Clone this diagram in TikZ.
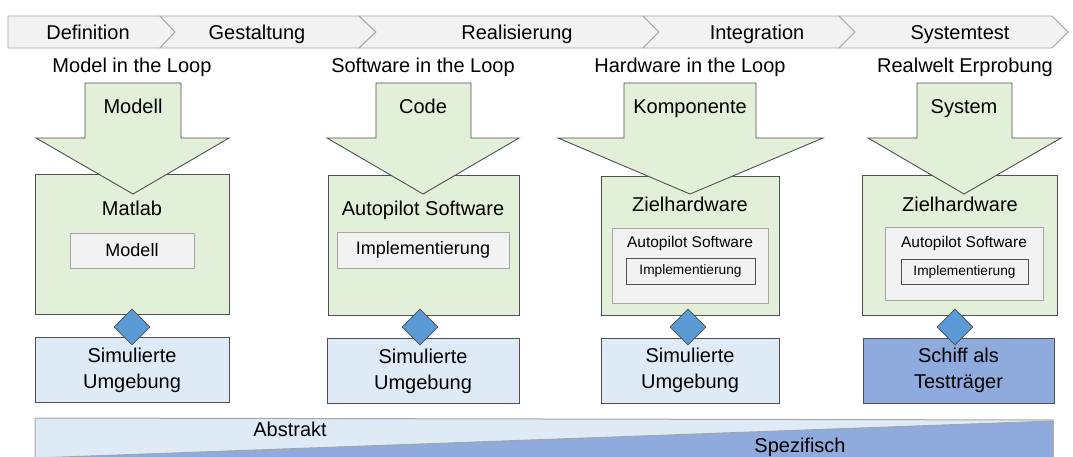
\documentclass[tikz,border=0pt]{standalone}
\usepackage{fontspec}
\setmainfont{Liberation Sans}
\usetikzlibrary{shapes.geometric}
\definecolor{phasegray}{HTML}{F2F2F2}
\definecolor{loopgreen}{HTML}{E2F0D9}
\definecolor{envblue}{HTML}{DEEBF7}
\definecolor{shipblue}{HTML}{8FAADC}
\definecolor{linkblue}{HTML}{5B9BD5}
\definecolor{edgegray}{HTML}{A6A6A6}
\definecolor{edgedark}{HTML}{505050}
\newcommand{\bigfont}{\fontsize{20}{26}\selectfont}
\newcommand{\midfont}{\fontsize{18}{22}\selectfont}
\newcommand{\smallfont}{\fontsize{15.5}{18}\selectfont}
\newcommand{\tinyfont}{\fontsize{13.7}{16}\selectfont}

\begin{document}
\begin{tikzpicture}[x=1pt,y=-1pt]
\tikzstyle{every node}+=[inner sep=0pt]
\tikzstyle{word}=[font=\bigfont, text height=14.5pt, text depth=4.2pt]
\tikzstyle{phase}=[fill=phasegray, draw=edgegray, line width=0.9pt, line join=miter]
\tikzstyle{hostbox}=[draw=edgedark, fill=loopgreen, line width=0.9pt, rectangle]
\tikzstyle{innerbox}=[draw=edgegray, fill=phasegray, line width=0.9pt, rectangle]
\tikzstyle{implbox}=[draw=edgedark, fill=phasegray, line width=0.8pt, rectangle]
\tikzstyle{envbox}=[draw=edgedark, fill=envblue, line width=0.9pt, rectangle, align=center, font=\bigfont]
\tikzstyle{shipbox}=[envbox, fill=shipblue]
\tikzstyle{link}=[draw=edgedark, fill=linkblue, line width=0.6pt, diamond, minimum width=36pt, minimum height=36pt]
\tikzstyle{inarrow}=[draw=edgedark, fill=loopgreen, line width=0.9pt, line join=miter]
\useasboundingbox (0,0) rectangle (1073,457);
% phases
\draw[phase] (8,16) -- (160,16) -- (175,32) -- (160,48) -- (8,48) -- cycle;
\draw[phase] (160,16) -- (359,16) -- (376,32) -- (359,48) -- (160,48) -- (175,32) -- cycle;
\draw[phase] (359,16) -- (643,16) -- (659,32) -- (643,48) -- (359,48) -- (376,32) -- cycle;
\draw[phase] (643,16) -- (839,16) -- (855,32) -- (839,48) -- (643,48) -- (659,32) -- cycle;
\draw[phase] (839,16) -- (1052,16) -- (1068,32) -- (1052,48) -- (839,48) -- (855,32) -- cycle;
\node[word] (definition) at (88,34) {Definition};
\node[word] (gestaltung) at (257,34) {Gestaltung};
\node[word] (realisierung) at (517,34) {Realisierung};
\node[word] (integration) at (757,34) {Integration};
\node[word] (systemtest) at (960,34) {Systemtest};
% model in the loop
\node[word] (milTitle) at (132,67) {Model in the Loop};
\node[hostbox, minimum width=194pt, minimum height=140pt] (milHost) at (132,244) {};
\draw[inarrow] (85,83) -- (181,83) -- (181,138) -- (229,138) -- (133,194) -- (36,138) -- (85,138) -- cycle;
\node[word] (milIn) at (133,108) {Modell};
\node[word] (milHostText) at (132,210.5) {Matlab};
\node[innerbox, minimum width=124pt, minimum height=35pt, font=\midfont] (milModel) at (132,250.5) {Modell};
\node[envbox, minimum width=194pt, minimum height=65pt] (milEnv) at (132,370) {Simulierte\\Umgebung};
\node[link] (milLink) at (132,327) {};
% software in the loop
\node[word] (silTitle) at (423,67) {Software in the Loop};
\node[hostbox, minimum width=191pt, minimum height=140pt] (silHost) at (423.5,245) {};
\draw[inarrow] (376,83) -- (471,83) -- (471,138) -- (519,138) -- (423,194) -- (327,138) -- (376,138) -- cycle;
\node[word] (silIn) at (423,108) {Code};
\node[word] (silHostText) at (423,210) {Autopilot Software};
\node[innerbox, minimum width=172pt, minimum height=36pt, font=\midfont] (silImpl) at (423,250) {Implementierung};
\node[envbox, minimum width=192pt, minimum height=65pt] (silEnv) at (423,371) {Simulierte\\Umgebung};
\node[link] (silLink) at (420,327) {};
% hardware in the loop
\node[word] (hilTitle) at (690,67) {Hardware in the Loop};
\node[hostbox, minimum width=178pt, minimum height=139pt] (hilHost) at (690,245.5) {};
\draw[inarrow] (624,83) -- (756,83) -- (756,138) -- (823,138) -- (690,194) -- (558,138) -- (624,138) -- cycle;
\node[word] (hilIn) at (690,108) {Komponente};
\node[word] (hilHostText) at (690,206) {Zielhardware};
\node[innerbox, minimum width=156pt, minimum height=75pt] (hilSoft) at (690,265.5) {};
\node[font=\smallfont] (hilSoftText) at (690,243) {Autopilot Software};
\node[implbox, minimum width=129pt, minimum height=26pt, font=\tinyfont] (hilImpl) at (690.5,271) {Implementierung};
\node[envbox, minimum width=178pt, minimum height=65pt] (hilEnv) at (690,370.5) {Simulierte\\Umgebung};
\node[link] (hilLink) at (688,327) {};
% realwelt
\node[word] (rwTitle) at (965,67) {Realwelt Erprobung};
\node[hostbox, minimum width=195pt, minimum height=140pt] (rwHost) at (959.5,245) {};
\draw[inarrow] (917,83) -- (1012,83) -- (1012,138) -- (1061,138) -- (964,194) -- (868,138) -- (917,138) -- cycle;
\node[word] (rwIn) at (964,108) {System};
\node[word] (rwHostText) at (960,206) {Zielhardware};
\node[innerbox, minimum width=158pt, minimum height=73pt] (rwSoft) at (964,263.5) {};
\node[font=\smallfont] (rwSoftText) at (964,243) {Autopilot Software};
\node[implbox, minimum width=127pt, minimum height=25pt, font=\tinyfont] (rwImpl) at (964.5,271.5) {Implementierung};
\node[shipbox, minimum width=191pt, minimum height=65pt] (rwEnv) at (958.5,370.5) {Schiff als\\Testträger};
\node[link] (rwLink) at (955,327) {};
% abstraction band
\draw[fill=envblue, draw=edgegray, line width=1pt] (35,418) -- (1053,420) -- (1053,459) -- (35,459) -- cycle;
\draw[fill=shipblue, draw=edgegray, line width=1pt] (35,458) -- (1053,421) -- (1053,459) -- cycle;
\node[word] (abstrakt) at (290,431) {Abstrakt};
\node[word] (spezifisch) at (800,447) {Spezifisch};
\end{tikzpicture}
\end{document}
